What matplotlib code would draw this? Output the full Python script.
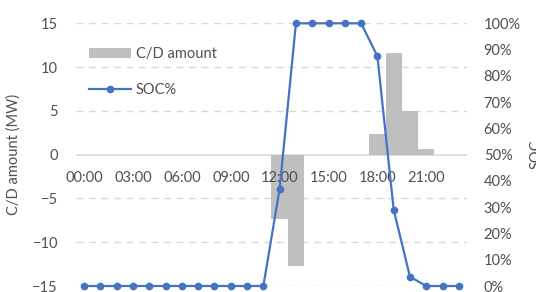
import numpy as np
import matplotlib.pyplot as plt

plt.rcParams['font.family'] = ['Lato', 'DejaVu Sans']

# hourly data
hours = list(range(24))
cd_amount = [0, 0, 0, 0, 0, 0, 0, 0, 0, 0, 0, 0,
             -7.4, -12.7, 0, 0, 0, 0, 2.4, 11.6, 5.0, 0.6, 0, 0]
soc = [0, 0, 0, 0, 0, 0, 0, 0, 0, 0, 0, 0,
       37, 100, 100, 100, 100, 100, 87.5, 29, 3.5, 0, 0, 0]
xtick_pos = [0, 3, 6, 9, 12, 15, 18, 21]
xtick_labels = ['00:00', '03:00', '06:00', '09:00', '12:00', '15:00', '18:00', '21:00']

txt = '#505050'
fs = 10.5

fig = plt.figure(figsize=(5.36, 2.92), dpi=100)
ax = fig.add_axes([76 / 536, 1 - 286 / 292, (467 - 76) / 536, (286 - 23.3) / 292])
ax2 = ax.twinx()

bars = ax.bar(hours, cd_amount, width=1.0, color='#BFBFBF', label='C/D amount', zorder=2)
ax.set_xlim(-0.5, 23.5)
ax.set_ylim(-15, 15)
ax.set_yticks([-15, -10, -5, 0, 5, 10, 15])
for v in [-15, -10, -5, 5, 10, 15]:
    ax.axhline(v, color='#D9D9D9', lw=1, ls=(0, (5, 4)), zorder=0)
ax.axhline(0, color='#D9D9D9', lw=1.2, zorder=1)
ax.set_axisbelow(False)

for s in ax.spines.values():
    s.set_visible(False)
for s in ax2.spines.values():
    s.set_visible(False)

ax.spines['bottom'].set_position(('data', 0))
ax.set_xticks(xtick_pos)
ax.set_xticklabels(xtick_labels)
ax.tick_params(axis='x', length=0, pad=12, labelsize=fs, labelcolor=txt)
ax.tick_params(axis='y', length=0, pad=13, labelsize=fs, labelcolor=txt)
ax.set_ylabel('C/D amount (MW)', fontsize=fs, color=txt, labelpad=8)

line, = ax2.plot(hours, soc, color='#4472C4', lw=1.6, marker='o', ms=4.5,
                 label='SOC%', clip_on=False, zorder=3)
ax2.set_ylim(0, 100)
ax2.set_yticks(np.arange(0, 101, 10))
ax2.set_yticklabels([f'{v}%' for v in range(0, 101, 10)])
ax2.tick_params(axis='y', length=0, pad=12, labelsize=fs, labelcolor=txt)
ax2.set_ylabel('SOC', fontsize=fs, color=txt, rotation=90, labelpad=6)

fig.legend(handles=[bars, line], loc='upper left',
           bbox_to_anchor=(89 / 536, 1 - 47 / 292), frameon=False,
           fontsize=fs, labelcolor=txt, borderpad=0, borderaxespad=0,
           handlelength=2.9, handletextpad=0.3, labelspacing=1.5)

fig.savefig('out.png', dpi=100)
